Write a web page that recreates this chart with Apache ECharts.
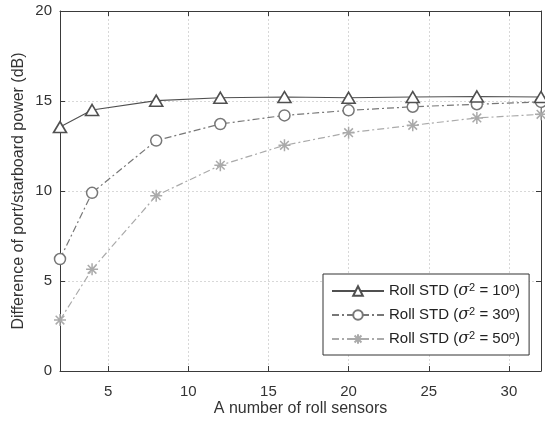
<!DOCTYPE html>
<html>
<head>
<meta charset="utf-8">
<script src="https://cdn.jsdelivr.net/npm/echarts@6/dist/echarts.min.js"></script>
<style>html,body{margin:0;padding:0;background:#fff}#c{width:545px;height:421px}</style>
</head>
<body>
<div id="c"></div>
<script>
var sensors = [2, 4, 8, 12, 16, 20, 24, 28, 32];
var std10 = [13.55, 14.5, 15.02, 15.18, 15.22, 15.18, 15.22, 15.25, 15.22];
var std30 = [6.22, 9.9, 12.8, 13.72, 14.2, 14.48, 14.68, 14.82, 14.95];
var std50 = [2.83, 5.65, 9.74, 11.43, 12.54, 13.24, 13.65, 14.06, 14.26];
var sigmaValues = [10, 30, 50];
var seriesNames = ['Roll STD (σ2 = 10°)', 'Roll STD (σ2 = 30°)', 'Roll STD (σ2 = 50°)'];
var xTicks = [5, 10, 15, 20, 25, 30];
var yTicks = [0, 5, 10, 15, 20];
var xName = 'A number of roll sensors';
var yName = 'Difference of port/starboard power (dB)';

function pairs(ys) { return sensors.map(function (x, i) { return [x, ys[i]]; }); }

var FONT = '"Liberation Sans", Arial, sans-serif';
var AX = '#3a3a3a';
var starPath = 'path://M0,-5L0,5M-5,0L5,0M-3.6,-3.6L3.6,3.6M-3.6,3.6L3.6,-3.6';

var chart = echarts.init(document.getElementById('c'), null, { renderer: 'canvas' });

var commonX = {
  type: 'value', min: 2, max: 32,
  axisLine: { show: true, onZero: false, lineStyle: { color: AX, width: 1 } },
  axisTick: { show: true, inside: true, length: 5, customValues: xTicks, lineStyle: { color: AX } },
  axisLabel: { customValues: xTicks, color: '#333', fontSize: 15, fontFamily: FONT, margin: 13 },
  splitLine: { show: false }
};
var commonY = {
  type: 'value', min: 0, max: 20, interval: 5,
  axisLine: { show: true, onZero: false, lineStyle: { color: AX, width: 1 } },
  axisTick: { show: true, inside: true, length: 5, lineStyle: { color: AX } },
  axisLabel: { color: '#333', fontSize: 15, fontFamily: FONT, margin: 8 },
  splitLine: { show: false }
};

var option = {
  animation: false,
  backgroundColor: '#fff',
  grid: { left: 60, right: 4, top: 11, bottom: 50, containLabel: false, outerBoundsMode: 'none' },
  xAxis: [
    Object.assign({}, commonX, {
      position: 'bottom',
      name: xName, nameLocation: 'middle', nameGap: 30, nameMoveOverlap: false,
      nameTextStyle: { color: '#333', fontSize: 16, fontFamily: FONT },
      splitLine: { show: true, lineStyle: { color: '#d8d8d8', type: [2, 2], width: 1 } }
    }),
    Object.assign({}, commonX, {
      position: 'top',
      axisLabel: { show: false, customValues: xTicks }
    })
  ],
  yAxis: [
    Object.assign({}, commonY, {
      position: 'left',
      name: yName, nameLocation: 'middle', nameGap: 33, nameMoveOverlap: false,
      nameTextStyle: { color: '#333', fontSize: 16, fontFamily: FONT },
      splitLine: { show: true, lineStyle: { color: '#d8d8d8', type: [2, 2], width: 1 } }
    }),
    Object.assign({}, commonY, {
      position: 'right',
      axisLabel: { show: false }
    })
  ],
  legend: {
    orient: 'vertical',
    left: 323, top: 274,
    padding: [8, 9, 8, 8],
    itemGap: 7,
    itemWidth: 52, itemHeight: 12,
    borderColor: '#333', borderWidth: 1,
    backgroundColor: '#fff',
    data: seriesNames,
    formatter: function (name) {
      var i = seriesNames.indexOf(name);
      return '{a|Roll STD (}{i|σ}{s|2}{a| = ' + sigmaValues[i] + '}{s|o}{a|)}';
    },
    textStyle: {
      color: '#222', fontFamily: FONT, fontSize: 15,
      rich: {
        a: { fontSize: 15, fontFamily: FONT, color: '#222', lineHeight: 18 },
        i: { fontSize: 16, fontFamily: '"DejaVu Serif", serif', fontStyle: 'italic', color: '#222', lineHeight: 18 },
        s: { fontSize: 11, fontFamily: FONT, color: '#222', verticalAlign: 'top', lineHeight: 10 }
      }
    }
  },
  series: [
    {
      name: seriesNames[0], type: 'line', data: pairs(std10),
      symbol: 'triangle', symbolSize: [13, 11],
      lineStyle: { color: '#505050', width: 1.1, type: 'solid' },
      itemStyle: { color: '#fff', borderColor: '#505050', borderWidth: 1.6 },
      z: 5
    },
    {
      name: seriesNames[1], type: 'line', data: pairs(std30),
      symbol: 'circle', symbolSize: 11,
      lineStyle: { color: '#777', width: 1.2, type: [7, 3, 2, 3] },
      itemStyle: { color: '#fff', borderColor: '#777', borderWidth: 1.5 },
      z: 4
    },
    {
      name: seriesNames[2], type: 'line', data: pairs(std50),
      symbol: starPath, symbolSize: 12,
      lineStyle: { color: '#aaa', width: 1.2, type: [7, 3, 2, 3] },
      itemStyle: { color: '#aaa', borderColor: '#aaa', borderWidth: 1.5 },
      z: 3
    }
  ]
};
chart.setOption(option);
</script>
</body>
</html>
